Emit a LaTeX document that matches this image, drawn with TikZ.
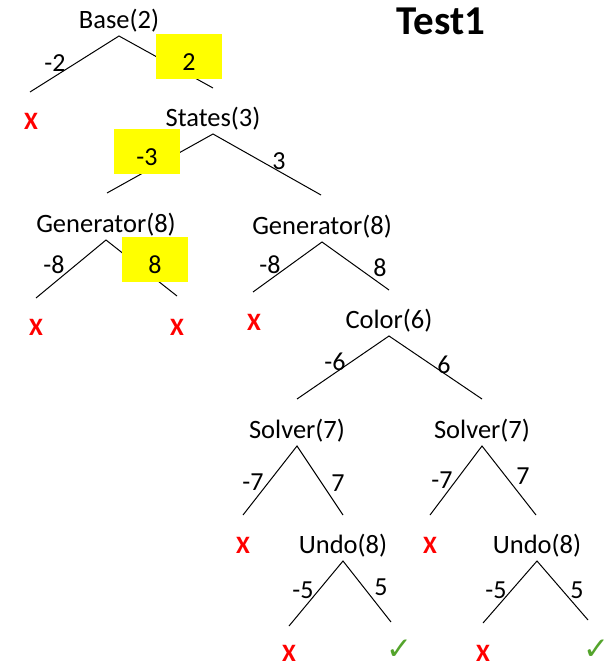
\documentclass[tikz,border=0pt]{standalone}
\usepackage{fontspec}
\setmainfont{Carlito}
\newfontfamily\symfont{DejaVu Sans}
\usepackage{tikz}

\definecolor{failred}{RGB}{255,0,0}
\definecolor{okgreen}{RGB}{84,164,44}
\definecolor{hlyellow}{RGB}{255,255,0}

\begin{document}
\begin{tikzpicture}[x=1pt,y=-1pt,
  tnode/.style={anchor=south,inner sep=4pt,font=\fontsize{26.5}{30}\selectfont},
  lbl/.style={inner sep=0pt,font=\fontsize{26}{30}\selectfont},
  hl/.style={fill=hlyellow,inner sep=0pt,minimum width=66pt,minimum height=45pt,
    text height=28pt,text depth=0pt,font=\fontsize{26}{30}\selectfont},
  fail/.style={inner sep=0pt,text=failred,font=\fontsize{25}{30}\selectfont\bfseries},
  ok/.style={inner sep=0pt,text=okgreen,font=\fontsize{31}{35}\selectfont\symfont},
  edge/.style={line width=1pt}]
\useasboundingbox (0,0) rectangle (610,666);

\node[font=\fontsize{41}{46}\selectfont\bfseries] (title) at (441,21) {Test1};

\node[tnode] (base) at (119,36) {Base(2)};
\node[tnode] (states) at (213,134) {States(3)};
\node[tnode] (genL) at (106,240) {Generator(8)};
\node[tnode] (genR) at (322,242) {Generator(8)};
\node[tnode] (color) at (389,336) {Color(6)};
\node[tnode] (solL) at (297,446) {Solver(7)};
\node[tnode] (solR) at (482,446) {Solver(7)};
\node[tnode] (undoL) at (343,561) {Undo(8)};
\node[tnode] (undoR) at (537,561) {Undo(8)};

\coordinate (base-l) at (30,92);   \coordinate (base-r) at (213,88);
\coordinate (states-l) at (107,193); \coordinate (states-r) at (321,195);
\coordinate (genL-l) at (36,298);  \coordinate (genL-r) at (177,296);
\coordinate (genR-l) at (253,292); \coordinate (genR-r) at (389,290);
\coordinate (color-l) at (297,399); \coordinate (color-r) at (482,399);
\coordinate (solL-l) at (243,515); \coordinate (solL-r) at (343,515);
\coordinate (solR-l) at (430,515); \coordinate (solR-r) at (536,515);
\coordinate (undoL-l) at (289,626); \coordinate (undoL-r) at (391,622);
\coordinate (undoR-l) at (483,623); \coordinate (undoR-r) at (588,620);

\foreach \t in {base,states,genL,genR,color,solL,solR,undoL,undoR}
  \draw[edge] (\t-l) -- (\t.south) -- (\t-r);

\node[lbl] (base-nl) at (55,63) {-2};
\node[hl] (base-nr) at (189,56.5) {2};
\node[hl] (states-nl) at (147,151.5) {-3};
\node[lbl] (states-nr) at (279,161) {3};
\node[lbl] (genL-nl) at (54,265) {-8};
\node[hl] (genL-nr) at (155,259) {8};
\node[lbl] (genR-nl) at (270,265) {-8};
\node[lbl] (genR-nr) at (380,268) {8};
\node[lbl] (color-nl) at (335,362) {-6};
\node[lbl] (color-nr) at (444,365) {6};
\node[lbl] (solL-nl) at (253,482) {-7};
\node[lbl] (solL-nr) at (338,483) {7};
\node[lbl] (solR-nl) at (442,480) {-7};
\node[lbl] (solR-nr) at (523,476) {7};
\node[lbl] (undoL-nl) at (303,590) {-5};
\node[lbl] (undoL-nr) at (381,587) {5};
\node[lbl] (undoR-nl) at (496,590) {-5};
\node[lbl] (undoR-nr) at (577,590) {5};

\node[fail] (x1) at (31,121) {X};
\node[fail] (x2) at (36,327) {X};
\node[fail] (x3) at (177,327) {X};
\node[fail] (x4) at (254,322) {X};
\node[fail] (x5) at (243,545) {X};
\node[fail] (x6) at (430,545) {X};
\node[fail] (x7) at (289,653) {X};
\node[fail] (x8) at (483,653) {X};
\node[ok] (ok1) at (399,650) {✓};
\node[ok] (ok2) at (596,650) {✓};
\end{tikzpicture}
\end{document}
